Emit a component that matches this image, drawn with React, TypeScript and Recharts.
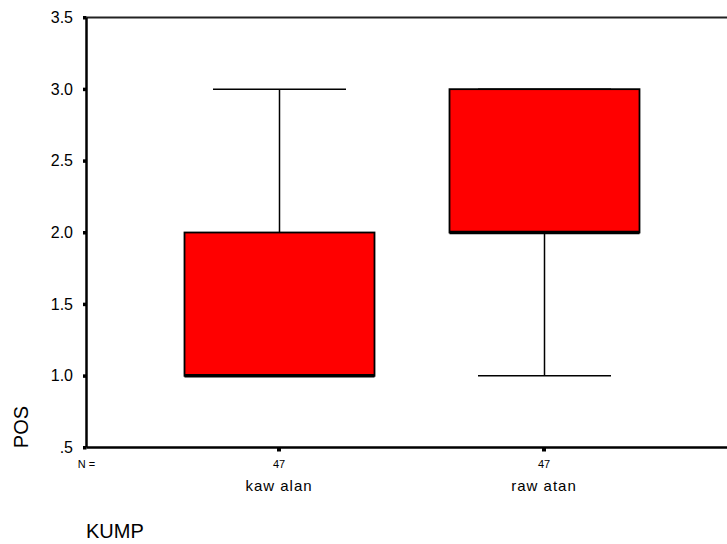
import React from "react";
import { ComposedChart, Bar, XAxis, YAxis, ReferenceLine, Label } from "recharts";

const categories = ["kaw alan", "raw atan"];
const nValues = [47, 47];
const minVals = [1, 1];
const q1Vals = [1, 2];
const medianVals = [1, 2];
const q3Vals = [2, 3];
const maxVals = [3, 3];

const yTicks = [0.5, 1, 1.5, 2, 2.5, 3, 3.5];
const yTickLabels = [".5", "1.0", "1.5", "2.0", "2.5", "3.0", "3.5"];

const data = categories.map((name, i) => ({
  name,
  n: nValues[i],
  min: minVals[i],
  q1: q1Vals[i],
  median: medianVals[i],
  q3: q3Vals[i],
  max: maxVals[i],
}));

const FONT = "'Liberation Sans', Arial, sans-serif";

function BoxShape(props: any) {
  const { x, y, width, height, payload } = props;
  const top = Math.min(y, y + height);
  const h = Math.abs(height);
  const { min, max, q1, q3, median } = payload;
  const k = h / (max - min);
  const py = (v: number) => top + (max - v) * k;
  const cx = x + width / 2;
  const capW = width * 0.7;
  return (
    <g>
      <line x1={cx} x2={cx} y1={py(max)} y2={py(min)} stroke="#000" strokeWidth={1.5} />
      <line x1={cx - capW / 2} x2={cx + capW / 2} y1={py(max)} y2={py(max)} stroke="#000" strokeWidth={1.5} />
      <line x1={cx - capW / 2} x2={cx + capW / 2} y1={py(min)} y2={py(min)} stroke="#000" strokeWidth={1.5} />
      <rect x={x} y={py(q3)} width={width} height={py(q1) - py(q3)} fill="#ff0000" stroke="#000" strokeWidth={1.8} />
      <line x1={x} x2={x + width} y1={py(median)} y2={py(median)} stroke="#000" strokeWidth={3.5} />
    </g>
  );
}

function YTick(props: any) {
  const { y, payload } = props;
  const idx = yTicks.indexOf(payload.value);
  return (
    <g>
      <rect x={83} y={y - 1.5} width={3.5} height={3.5} fill="#000" />
      <text x={73} y={y + 5.5} textAnchor="end" fontFamily={FONT} fontSize={16} fill="#000">
        {yTickLabels[idx]}
      </text>
    </g>
  );
}

function XTick(props: any) {
  const { x, payload, index } = props;
  const d = data[index] || data.find((e) => e.name === payload.value);
  return (
    <g>
      <rect x={x - 2} y={448} width={4} height={3.5} fill="#000" />
      <text x={x} y={468} textAnchor="middle" fontFamily={FONT} fontSize={11} fill="#000">
        {d ? d.n : ""}
      </text>
      <text x={x} y={491} textAnchor="middle" fontFamily={FONT} fontSize={15} letterSpacing={1} fill="#000">
        {payload.value}
      </text>
    </g>
  );
}

export default function App() {
  return (
    <div style={{ position: "absolute", left: 0, top: 0, width: 727, height: 544, overflow: "hidden", background: "#fff" }}>
      <ComposedChart
        width={760}
        height={544}
        data={data}
        margin={{ top: 17.5, right: 23.5, bottom: 0, left: 0 }}
      >
        <XAxis
          dataKey="name"
          type="category"
          padding={{ left: 60, right: 60 }}
          axisLine={{ stroke: "#000", strokeWidth: 2.5 }}
          tickLine={false}
          tick={<XTick />}
          height={96.5}
          interval={0}
        >
          <Label
            content={(p: any) => {
              const vb = p.viewBox || { x: 86, y: 448 };
              return (
                <g>
                  <text x={vb.x} y={468} textAnchor="middle" fontFamily={FONT} fontSize={11} fill="#000">
                    N =
                  </text>
                  <text x={86} y={538} textAnchor="start" fontFamily={FONT} fontSize={20} fill="#000">
                    KUMP
                  </text>
                </g>
              );
            }}
          />
        </XAxis>
        <YAxis
          type="number"
          domain={[0.5, 3.5]}
          ticks={yTicks}
          interval={0}
          width={86.5}
          axisLine={{ stroke: "#000", strokeWidth: 2.5 }}
          tickLine={false}
          tick={<YTick />}
          allowDataOverflow
        >
          <Label
            content={() => (
              <text
                x={28}
                y={427}
                transform="rotate(-90 28 427)"
                textAnchor="middle"
                fontFamily={FONT}
                fontSize={20}
                fill="#000"
              >
                POS
              </text>
            )}
          />
        </YAxis>
        <ReferenceLine y={3.5} stroke="#222" strokeWidth={2} />
        <Bar
          dataKey={(d: any) => [d.min, d.max]}
          barSize={190}
          shape={<BoxShape />}
          isAnimationActive={false}
        />
      </ComposedChart>
    </div>
  );
}
